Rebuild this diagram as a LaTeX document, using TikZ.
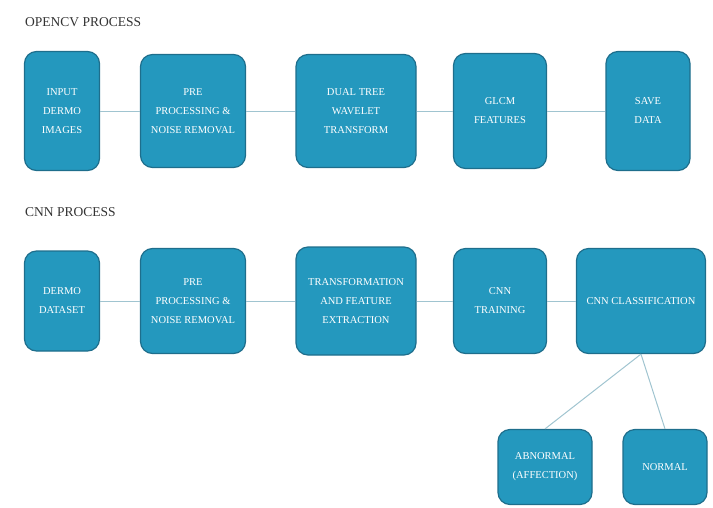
\documentclass[tikz,border=0pt]{standalone}
\usepackage{fontspec}
\setmainfont{Liberation Serif}
\usetikzlibrary{shapes}

\definecolor{boxfill}{RGB}{36,152,190}
\definecolor{boxedge}{RGB}{30,110,140}
\definecolor{linkcol}{RGB}{160,196,208}

\begin{document}
\begin{tikzpicture}[x=1pt,y=-1pt]
\tikzstyle{stage}=[
	rectangle,
	rounded corners=12pt,
	draw=boxedge,
	line width=1.2pt,
	fill=boxfill,
	text=white,
	align=center,
	inner sep=0pt,
	font=\fontsize{10.5}{19}\selectfont ]
\tikzstyle{link}=[draw=linkcol, line width=1pt]
\tikzstyle{heading}=[anchor=west, inner sep=0pt, text=black!80, font=\fontsize{13.5}{16}\selectfont]
\useasboundingbox (0,0) rectangle (713,507);

% opencv process
\node[heading] (cvtitle) at (25,22) {OPENCV PROCESS};
\node[stage, minimum width=75pt, minimum height=119pt] (cvinput) at (62,111) {INPUT\\DERMO\\IMAGES};
\node[stage, minimum width=105pt, minimum height=113pt] (cvpre) at (193,111) {PRE\\PROCESSING \&\\NOISE REMOVAL};
\node[stage, minimum width=120pt, minimum height=113pt] (cvdual) at (356,111) {DUAL TREE\\WAVELET\\TRANSFORM};
\node[stage, minimum width=93pt, minimum height=115pt] (cvglcm) at (500,111) {GLCM\\FEATURES};
\node[stage, minimum width=84pt, minimum height=119pt] (cvsave) at (648,111) {SAVE\\DATA};
\draw[link] (cvinput) -- (cvpre);
\draw[link] (cvpre) -- (cvdual);
\draw[link] (cvdual) -- (cvglcm);
\draw[link] (cvglcm) -- (cvsave);

% cnn process
\node[heading] (cnntitle) at (25,212) {CNN PROCESS};
\node[stage, minimum width=75pt, minimum height=100pt] (cnndata) at (62,301) {DERMO\\DATASET};
\node[stage, minimum width=105pt, minimum height=105pt] (cnnpre) at (193,301) {PRE\\PROCESSING \&\\NOISE REMOVAL};
\node[stage, minimum width=120pt, minimum height=108pt] (cnnfeat) at (356,301) {TRANSFORMATION\\AND FEATURE\\EXTRACTION};
\node[stage, minimum width=93pt, minimum height=105pt] (cnntrain) at (500,301) {CNN\\TRAINING};
\node[stage, minimum width=129pt, minimum height=105pt] (cnnclass) at (641,301) {CNN CLASSIFICATION};
\node[stage, minimum width=94pt, minimum height=75pt] (abnormal) at (545,467) {ABNORMAL\\(AFFECTION)};
\node[stage, minimum width=84pt, minimum height=75pt] (normal) at (665,467) {NORMAL};
\draw[link] (cnndata) -- (cnnpre);
\draw[link] (cnnpre) -- (cnnfeat);
\draw[link] (cnnfeat) -- (cnntrain);
\draw[link] (cnntrain) -- (cnnclass);
\draw[link] (cnnclass.south) -- (abnormal.north);
\draw[link] (cnnclass.south) -- (normal.north);
\end{tikzpicture}
\end{document}
